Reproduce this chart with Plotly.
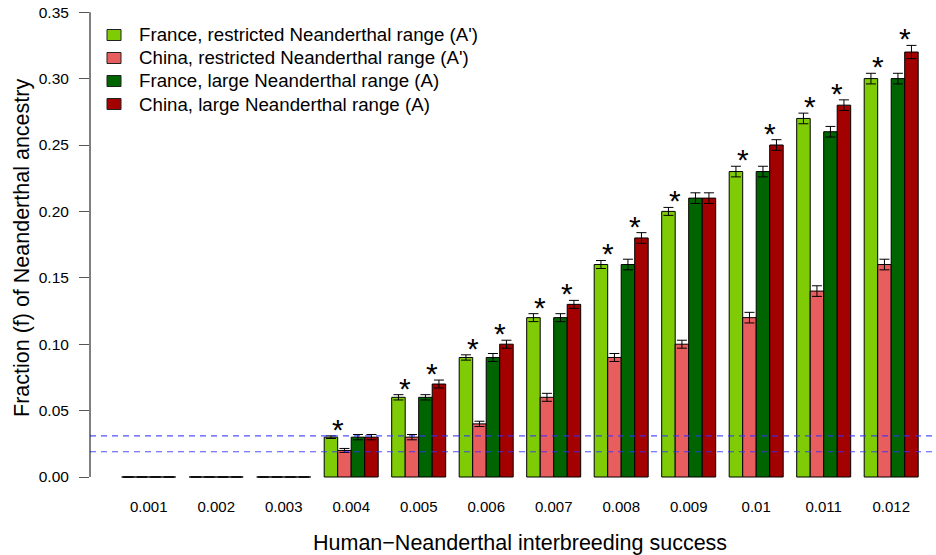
import plotly.graph_objects as go

categories = ["0.001", "0.002", "0.003", "0.004", "0.005", "0.006",
              "0.007", "0.008", "0.009", "0.01", "0.011", "0.012"]

france_restricted = [0, 0, 0, 0.03, 0.06, 0.09, 0.12, 0.16, 0.20, 0.23, 0.27, 0.30]
china_restricted = [0, 0, 0, 0.02, 0.03, 0.04, 0.06, 0.09, 0.10, 0.12, 0.14, 0.16]
france_large = [0, 0, 0, 0.03, 0.06, 0.09, 0.12, 0.16, 0.21, 0.23, 0.26, 0.30]
china_large = [0, 0, 0, 0.03, 0.07, 0.10, 0.13, 0.18, 0.21, 0.25, 0.28, 0.32]

france_restricted_err = [0, 0, 0, 0.001, 0.002, 0.002, 0.003, 0.003, 0.003, 0.004, 0.004, 0.004]
china_restricted_err = [0, 0, 0, 0.0015, 0.002, 0.002, 0.003, 0.003, 0.003, 0.004, 0.004, 0.004]
france_large_err = [0, 0, 0, 0.002, 0.002, 0.003, 0.003, 0.004, 0.004, 0.004, 0.004, 0.004]
china_large_err = [0, 0, 0, 0.002, 0.003, 0.003, 0.003, 0.004, 0.004, 0.004, 0.004, 0.005]

# significance stars: restricted pair (A'), large pair (A)
star_restricted = [0, 0, 0, 1, 1, 1, 1, 1, 1, 1, 1, 1]
star_large = [0, 0, 0, 0, 1, 1, 1, 1, 0, 1, 1, 1]

# reference lines (observed Neanderthal ancestry range)
ref_lines = [0.031, 0.019]

y_ticks = [0.00, 0.05, 0.10, 0.15, 0.20, 0.25, 0.30, 0.35]

series_names = ["France, restricted Neanderthal range (A')",
                "China, restricted Neanderthal range (A')",
                "France, large Neanderthal range (A)",
                "China, large Neanderthal range (A)"]
series_colors = ["#7FCC06", "#E85D5D", "#006400", "#A30000"]
series_values = [france_restricted, china_restricted, france_large, china_large]
series_errors = [france_restricted_err, china_restricted_err, france_large_err, china_large_err]

FONT = "Liberation Sans, Arial, sans-serif"

# plot area in pixels
L, R_, T, B = 90, 936, 0, 490
Y0_PX, PX_PER_UNIT = 477, 1328.0


def px_x(px):
    return (px - L) / (R_ - L)


def px_y(py):
    return (B - py) / (B - T)


fig = go.Figure()
for name, vals, errs, col in zip(series_names, series_values, series_errors, series_colors):
    fig.add_trace(go.Bar(
        x=categories, y=vals, name=name, showlegend=False,
        marker=dict(color=col, line=dict(color="black", width=1)),
        error_y=dict(type="data", array=errs, visible=True,
                     color="black", thickness=1, width=5),
    ))

# stars
for i, cat in enumerate(categories):
    pairs = [(star_restricted[i], -1.0 / 5, france_restricted, france_restricted_err,
              china_restricted, china_restricted_err),
             (star_large[i], 1.0 / 5, france_large, france_large_err,
              china_large, china_large_err)]
    for flag, off, a, ae, b, be in pairs:
        if flag:
            top = max(a[i] + ae[i], b[i] + be[i]) + 0.008
            fig.add_annotation(x=i + off, y=top, text="*", showarrow=False,
                               xanchor="center", yanchor="middle", yshift=-4,
                               font=dict(size=30, color="black", family=FONT))

for yv in ref_lines:
    fig.add_shape(type="line", xref="paper", x0=0, x1=1, yref="y", y0=yv, y1=yv,
                  line=dict(color="rgba(50,50,255,0.85)", width=1.2, dash="6px,5px"),
                  layer="above")

# y axis line spanning tick range only
fig.add_shape(type="line", xref="paper", x0=0, x1=0, yref="y",
              y0=y_ticks[0], y1=y_ticks[-1], line=dict(color="black", width=1))

# manual legend
legend_rows = [35, 58, 81, 104]
for name, col, ry in zip(series_names, series_colors, legend_rows):
    fig.add_shape(type="rect", xref="paper", yref="paper",
                  x0=px_x(107), x1=px_x(121), y0=px_y(ry - 5.5), y1=px_y(ry + 5.5),
                  fillcolor=col, line=dict(color="#222", width=1))
    fig.add_annotation(xref="paper", yref="paper", x=px_x(137), y=px_y(ry),
                       text=name, showarrow=False, xanchor="left", yanchor="middle",
                       font=dict(size=18.7, color="black", family=FONT))

fig.add_annotation(xref="paper", yref="paper", x=px_x(520), y=px_y(543),
                   text="Human\u2212Neanderthal interbreeding success", showarrow=False,
                   xanchor="center", yanchor="middle",
                   font=dict(size=21.5, color="black", family=FONT))
fig.add_annotation(xref="paper", yref="paper", x=px_x(22), y=px_y(248),
                   text="Fraction (f) of Neanderthal ancestry", showarrow=False,
                   textangle=-90, xanchor="center", yanchor="middle",
                   font=dict(size=21.5, color="black", family=FONT))

fig.update_layout(
    width=936, height=555,
    margin=dict(l=L, r=936 - R_, t=T, b=555 - B, autoexpand=False),
    paper_bgcolor="white", plot_bgcolor="white",
    barmode="group", bargap=0.2, bargroupgap=0,
    font=dict(family=FONT, color="black"),
    showlegend=False,
    xaxis=dict(range=[(L - 148.7) / 67.5, (R_ - 148.7) / 67.5],
               showgrid=False, zeroline=False, showline=False, ticks="",
               tickfont=dict(size=15, family=FONT, color="black"),
               ticklabelstandoff=6, automargin=False),
    yaxis=dict(range=[(Y0_PX - B) / PX_PER_UNIT, (Y0_PX - T) / PX_PER_UNIT],
               showgrid=False, zeroline=False,
               showline=False, tickvals=y_ticks,
               ticktext=["%.2f" % v for v in y_ticks],
               ticks="outside", ticklen=10, tickcolor="#555", tickwidth=1,
               ticklabelstandoff=7, automargin=False,
               tickfont=dict(size=15.5, family=FONT, color="black")),
)

fig.write_html("out.html", config={"displayModeBar": False},
               post_script="document.body.style.margin='0px';document.body.style.padding='0px';")
